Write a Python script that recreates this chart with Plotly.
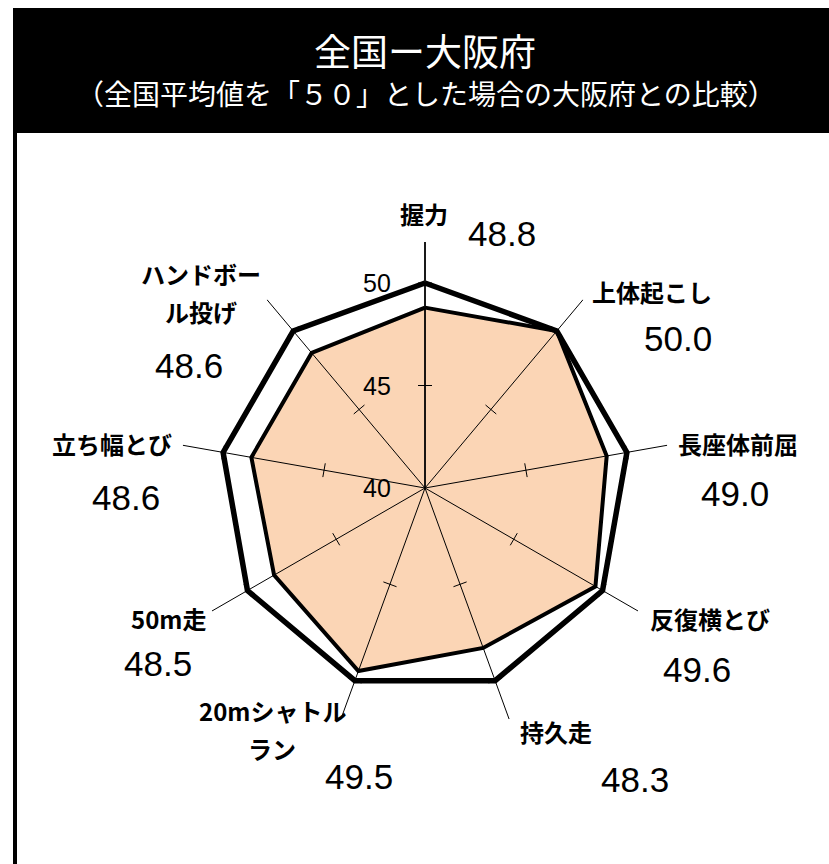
import math
import plotly.graph_objects as go

# ---- data ----
categories = ["握力", "上体起こし", "長座体前屈", "反復横とび", "持久走",
              "20mシャトル<br>ラン", "50m走", "立ち幅とび", "ハンドボー<br>ル投げ"]
osaka = [48.8, 50.0, 49.0, 49.6, 48.3, 49.5, 48.5, 48.6, 48.6]
national = [50, 50, 50, 50, 50, 50, 50, 50, 50]
radial_ticks = [40, 45, 50]
r_min, r_max = 40, 52
title = "全国ー大阪府"
subtitle = "（全国平均値を「５０」とした場合の大阪府との比較）"

W, H = 829, 864
CX, CY, RAD = 425, 488, 246  # polar centre / radius in px
px_per_unit = RAD / (r_max - r_min)

n = len(categories)
angles = [i * 360 / n for i in range(n)]

fig = go.Figure()

# Osaka polygon (filled)
fig.add_trace(go.Scatterpolar(
    r=osaka + [osaka[0]], theta=angles + [angles[0]], mode="lines",
    fill="toself", fillcolor="#FBD5B5", line=dict(color="black", width=4),
    hoverinfo="skip", showlegend=False))

# national average polygon
fig.add_trace(go.Scatterpolar(
    r=national + [national[0]], theta=angles + [angles[0]], mode="lines",
    line=dict(color="black", width=5.5), hoverinfo="skip", showlegend=False))

# spokes
sr, st = [], []
for a in angles:
    sr += [r_min, r_max, None]
    st += [a, a, None]
fig.add_trace(go.Scatterpolar(r=sr, theta=st, mode="lines",
                              line=dict(color="black", width=1),
                              connectgaps=False, hoverinfo="skip", showlegend=False))

# cross tick marks on each spoke
half = 7 / px_per_unit
tr, tt = [], []
for tv in radial_ticks[1:]:
    rv = tv - r_min
    rr = r_min + math.hypot(rv, half)
    da = math.degrees(math.atan2(half, rv))
    for a in angles:
        tr += [rr, rr, None]
        tt += [a - da, a + da, None]
fig.add_trace(go.Scatterpolar(r=tr, theta=tt, mode="lines",
                              line=dict(color="black", width=1),
                              connectgaps=False, hoverinfo="skip", showlegend=False))

def px(x):
    return x / W

def py(y):
    return 1 - y / H

# header band and left border
shapes = [
    dict(type="rect", xref="paper", yref="paper", x0=px(13), x1=px(840),
         y0=py(133), y1=py(8), fillcolor="black", line=dict(width=0), layer="below"),
    dict(type="line", xref="paper", yref="paper", x0=px(15), x1=px(15),
         y0=py(133), y1=py(880), line=dict(color="black", width=4)),
]

annotations = [
    dict(text=title, x=px(425), y=py(50), xref="paper", yref="paper",
         showarrow=False, xanchor="center", yanchor="middle",
         font=dict(family="Noto Sans CJK JP", size=37, color="white")),
    dict(text=subtitle, x=px(426), y=py(93), xref="paper", yref="paper",
         showarrow=False, xanchor="center", yanchor="middle",
         font=dict(family="Noto Sans CJK JP", size=28, color="white")),
]

# label layout positions (px): category label line centres and value centre
label_pos = [(424, 213), (652, 291), (738, 443), (710, 618), (556, 731),
             (272, 710), (168, 618), (112, 443), (201, 273)]
value_pos = [(502, 234), (678, 338), (735, 493), (697, 669), (635, 779),
             (359, 776), (158, 663), (126, 497), (189, 365)]
line_gap = 38

for cat, val, (lx, ly), (vx, vy) in zip(categories, osaka, label_pos, value_pos):
    for k, line in enumerate(cat.split("<br>")):
        annotations.append(dict(
            text="<b>" + line + "</b>", x=px(lx), y=py(ly + k * line_gap),
            xref="paper", yref="paper", showarrow=False,
            xanchor="center", yanchor="middle",
            font=dict(family="Noto Sans CJK JP", size=24, color="black")))
    annotations.append(dict(
        text=f"{val:.1f}", x=px(vx), y=py(vy), xref="paper", yref="paper",
        showarrow=False, xanchor="center", yanchor="middle",
        font=dict(family="Liberation Sans, Arial", size=35, color="black")))

# radial tick labels
for tv in radial_ticks:
    annotations.append(dict(
        text=str(tv), x=px(CX - 48), y=py(CY - (tv - r_min) * px_per_unit),
        xref="paper", yref="paper", showarrow=False,
        xanchor="center", yanchor="middle",
        font=dict(family="Liberation Sans, Arial", size=25, color="black")))

fig.update_layout(
    width=W, height=H,
    margin=dict(l=0, r=0, t=0, b=0),
    paper_bgcolor="white",
    showlegend=False,
    shapes=shapes,
    annotations=annotations,
    polar=dict(
        domain=dict(x=[(CX - RAD) / W, (CX + RAD) / W],
                    y=[(H - CY - RAD) / H, (H - CY + RAD) / H]),
        bgcolor="rgba(0,0,0,0)",
        radialaxis=dict(range=[r_min, r_max], showticklabels=False, ticks="",
                        showgrid=False, showline=True, linecolor="black",
                        linewidth=1.6, angle=90, layer="above traces"),
        angularaxis=dict(direction="clockwise", rotation=90, showgrid=False,
                         showline=False, showticklabels=False, ticks=""),
    ),
)

fig.write_html("out.html")
